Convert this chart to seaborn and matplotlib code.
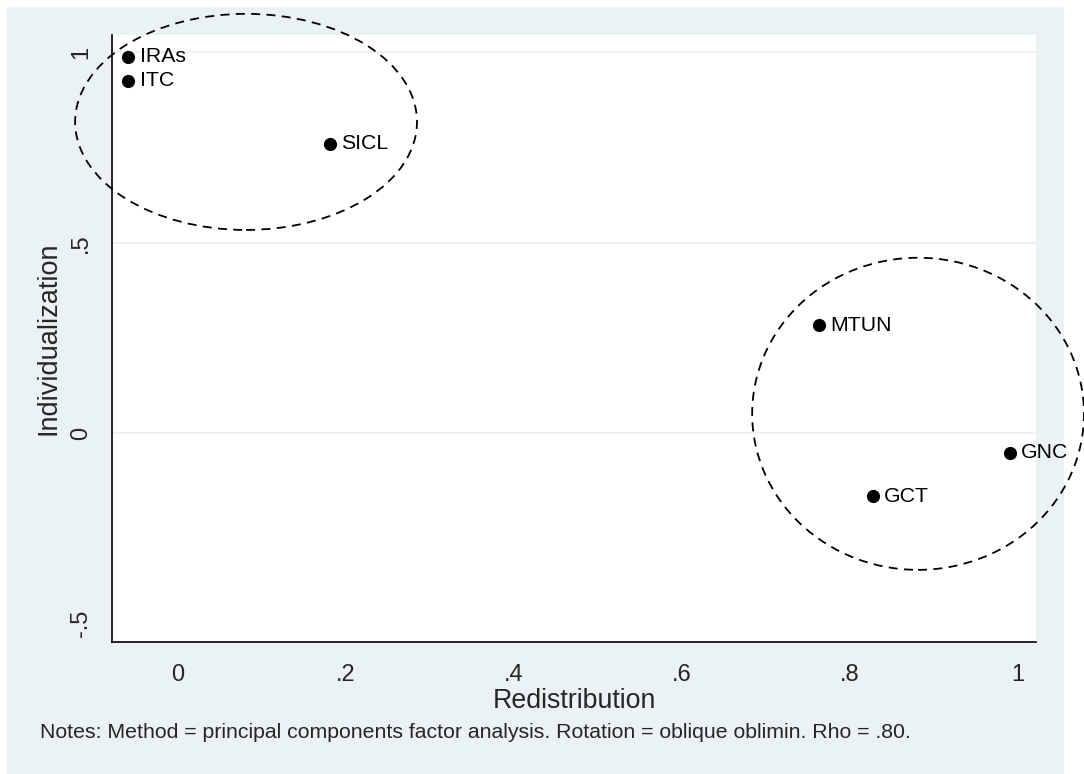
import numpy as np
import pandas as pd
import matplotlib
matplotlib.use("Agg")
import matplotlib.pyplot as plt
from matplotlib.patches import Ellipse, Rectangle
import seaborn as sns

# factor loadings
programs = ["IRAs", "ITC", "SICL", "MTUN", "GNC", "GCT"]
redistribution = [-0.059, -0.059, 0.181, 0.763, 0.990, 0.827]
individualization = [0.988, 0.925, 0.760, 0.284, -0.051, -0.165]

# cluster ellipses: centre x, centre y, width, height (data units)
clusters = [(0.081, 0.817, 0.407, 0.567),
            (0.881, 0.051, 0.395, 0.819)]

xticks = [0, 0.2, 0.4, 0.6, 0.8, 1]
xticklabels = ["0", ".2", ".4", ".6", ".8", "1"]
yticks = [-0.5, 0, 0.5, 1]
yticklabels = ["-.5", "0", ".5", "1"]

note = "Notes: Method = principal components factor analysis. Rotation = oblique oblimin. Rho = .80."

df = pd.DataFrame({"program": programs, "x": redistribution, "y": individualization})

sns.set_style("white")
plt.rcParams["font.family"] = ["Liberation Sans", "DejaVu Sans"]
bg = "#EAF2F3"

fig = plt.figure(figsize=(10.84, 7.74), dpi=100, facecolor="white")
fig.patches.append(Rectangle((7 / 1084, 0), 1057 / 1084, 1 - 7 / 774,
                             transform=fig.transFigure, facecolor=bg,
                             edgecolor="none", zorder=-10))
ax = fig.add_axes([112 / 1084, 1 - 641.7 / 774, 924 / 1084, 606.7 / 774])
ax.set_facecolor("white")

for yv in yticks[1:]:
    ax.axhline(yv, color=bg, lw=1.5, zorder=0)

sns.scatterplot(data=df, x="x", y="y", color="black", edgecolor="black",
                s=90, linewidth=0, ax=ax, zorder=3, legend=False)
for _, r in df.iterrows():
    ax.annotate(r["program"], (r["x"], r["y"]), xytext=(8, 0),
                textcoords="offset points", va="center", ha="left",
                fontsize=15.3, color="black")

for cx, cy, w, h in clusters:
    ax.add_patch(Ellipse((cx, cy), w, h, fill=False, edgecolor="black",
                         lw=1.3, linestyle=(0, (5, 3.5)), clip_on=False, zorder=4))

ax.set_xlim(-0.0786, 1.0214)
ax.set_ylim(-0.547, 1.045)
ax.set_xticks(xticks)
ax.set_xticklabels(xticklabels)
ax.set_yticks(yticks)
ax.set_yticklabels(yticklabels, rotation=90, va="center")
ax.tick_params(axis="both", direction="out", length=7.2, width=1, color="#444444",
               labelsize=17)
ax.tick_params(axis="x", pad=9)
ax.tick_params(axis="y", pad=7)
for s in ["top", "right"]:
    ax.spines[s].set_visible(False)
for s in ["left", "bottom"]:
    ax.spines[s].set_color("black")
    ax.spines[s].set_linewidth(1.2)

ax.set_xlabel("Redistribution", fontsize=19.3, labelpad=1)
ax.set_ylabel("Individualization", fontsize=19.5, labelpad=6)

fig.text(40 / 1084, 1 - 733 / 774, note, fontsize=15.3, va="center", ha="left")

fig.savefig("out.png", dpi=100, facecolor=fig.get_facecolor())
